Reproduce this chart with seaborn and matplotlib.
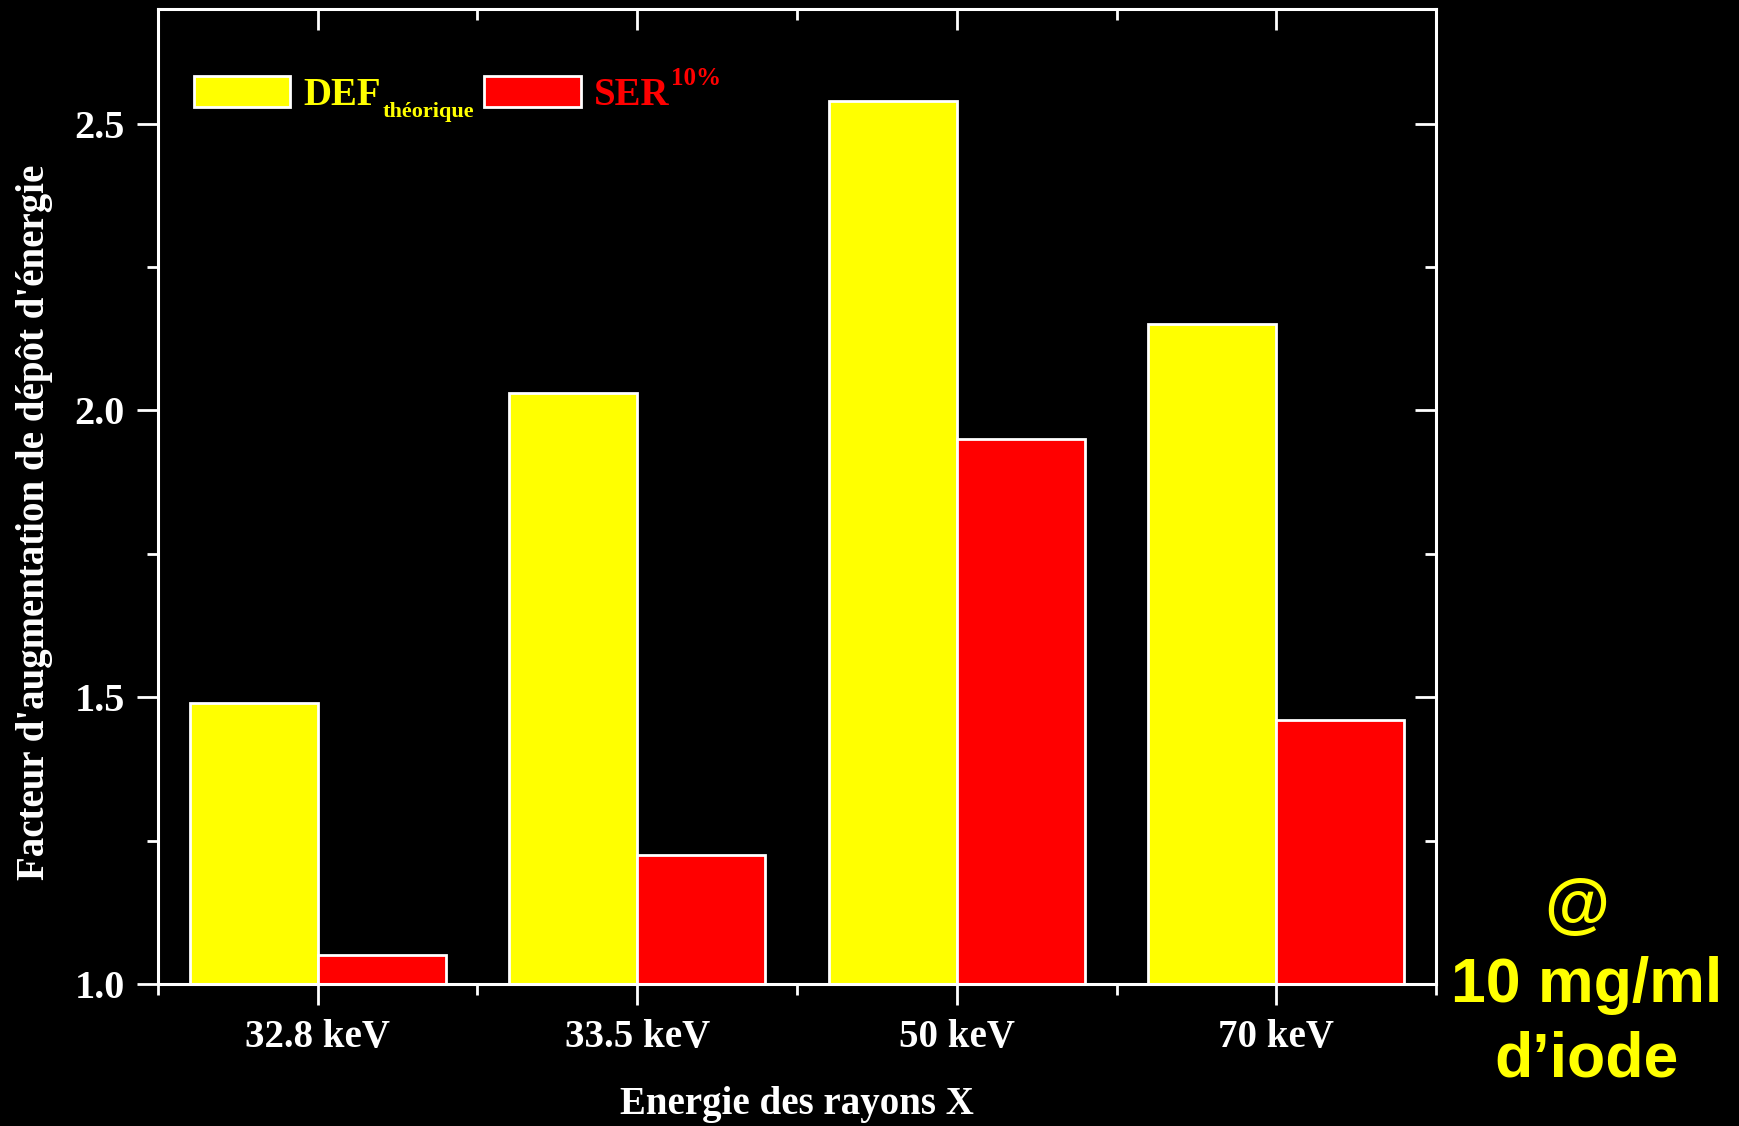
import matplotlib
matplotlib.use("Agg")
import matplotlib.pyplot as plt
import matplotlib.transforms as mtransforms
import numpy as np
import pandas as pd
import seaborn as sns

# data
energies = ["32.8 keV", "33.5 keV", "50 keV", "70 keV"]
def_theorique = [1.49, 2.03, 2.54, 2.15]
ser_10 = [1.05, 1.225, 1.95, 1.46]
series = ["DEF", "SER"]
suffixes = {"DEF": "théorique", "SER": "10%"}
colors = {"DEF": "#ffff00", "SER": "#ff0000"}

df = pd.DataFrame({
    "energie": energies * 2,
    "serie": ["DEF"] * len(energies) + ["SER"] * len(energies),
    "valeur": def_theorique + ser_10,
})

sns.set_theme(style="ticks")
plt.rcParams["font.family"] = ["Liberation Serif", "DejaVu Serif"]
plt.rcParams["font.weight"] = "bold"

fig = plt.figure(figsize=(17.4, 11.26), dpi=100, facecolor="black")
ax = fig.add_axes([0.0908, 0.1261, 0.7345, 0.8659])
ax.set_facecolor("black")

sns.barplot(data=df, x="energie", y="valeur", hue="serie", hue_order=series,
            palette=colors, edgecolor="white", linewidth=2, width=0.8,
            saturation=1, ax=ax)

ax.set_ylim(1.0, 2.7)
ax.set_xlim(-0.5, 3.5)
ax.set_yticks([1.0, 1.5, 2.0, 2.5])
ax.set_yticks([1.25, 1.75, 2.25], minor=True)
ax.set_yticklabels(["1.0", "1.5", "2.0", "2.5"])
ax.set_xticks(range(len(energies)))
ax.set_xticks(np.arange(-0.5, 3.6, 1.0), minor=True)
ax.set_xticklabels(energies)

for s in ax.spines.values():
    s.set_color("white")
    s.set_linewidth(2.2)

ax.tick_params(axis="both", which="major", direction="out", length=15, width=2,
               color="white", labelcolor="white")
ax.tick_params(axis="both", which="minor", direction="out", length=8, width=2,
               color="white")
ax.tick_params(axis="y", pad=9, labelsize=29)
ax.tick_params(axis="x", pad=10, labelsize=28)

top = ax.secondary_xaxis("top")
top.set_xticks(range(len(energies)))
top.set_xticks(np.arange(0.5, 3.0, 1.0), minor=True)
top.set_xticklabels([])
top.tick_params(which="major", direction="in", length=15, width=2, color="white")
top.tick_params(which="minor", direction="in", length=8, width=2, color="white")
top.spines["top"].set_visible(False)

right = ax.secondary_yaxis("right")
right.set_yticks([1.0, 1.5, 2.0, 2.5])
right.set_yticks([1.25, 1.75, 2.25], minor=True)
right.set_yticklabels([])
right.tick_params(which="major", direction="in", length=15, width=2, color="white")
right.tick_params(which="minor", direction="in", length=8, width=2, color="white")
right.spines["right"].set_visible(False)

ax.set_xlabel("Energie des rayons X", color="white", fontsize=28, fontweight="bold",
              labelpad=22)
ax.set_ylabel("Facteur d'augmentation de dépôt d'énergie", color="white",
              fontsize=28, fontweight="bold")
ax.yaxis.set_label_coords(-0.082, 0.474)

handles, _ = ax.get_legend_handles_labels()
leg = ax.legend(handles, series, loc="upper left", ncol=2, frameon=False,
                fontsize=28, handlelength=2.48, handleheight=0.83,
                bbox_to_anchor=(0.0282, 0.931), borderpad=0, borderaxespad=0,
                columnspacing=2.65, handletextpad=0.34)
for t, s in zip(leg.get_texts(), series):
    t.set_color(colors[s])

# subscript / superscript next to the legend labels
fig.canvas.draw()
renderer = fig.canvas.get_renderer()
ident = mtransforms.IdentityTransform()
for t, s in zip(leg.get_texts(), series):
    bb = t.get_window_extent(renderer)
    if s == "DEF":
        fig.text(bb.x1 + 1, bb.y0 + 0.32 * bb.height, suffixes[s], transform=ident,
                 color=colors[s], fontsize=16, fontweight="bold", ha="left", va="top")
    else:
        fig.text(bb.x1 + 1, bb.y0 + 0.66 * bb.height, suffixes[s], transform=ident,
                 color=colors[s], fontsize=18, fontweight="bold", ha="left", va="bottom")

for txt, x, y, fs in [("@", 0.9063, 0.193, 48), ("10 mg/ml", 0.912, 0.125, 45),
                      ("d\u2019iode", 0.912, 0.059, 45)]:
    fig.text(x, y, txt, color="#ffff00", fontsize=fs, fontweight="bold",
             family=["Liberation Sans", "DejaVu Sans"], ha="center", va="center")

fig.savefig("out.png", dpi=100, facecolor="black")
